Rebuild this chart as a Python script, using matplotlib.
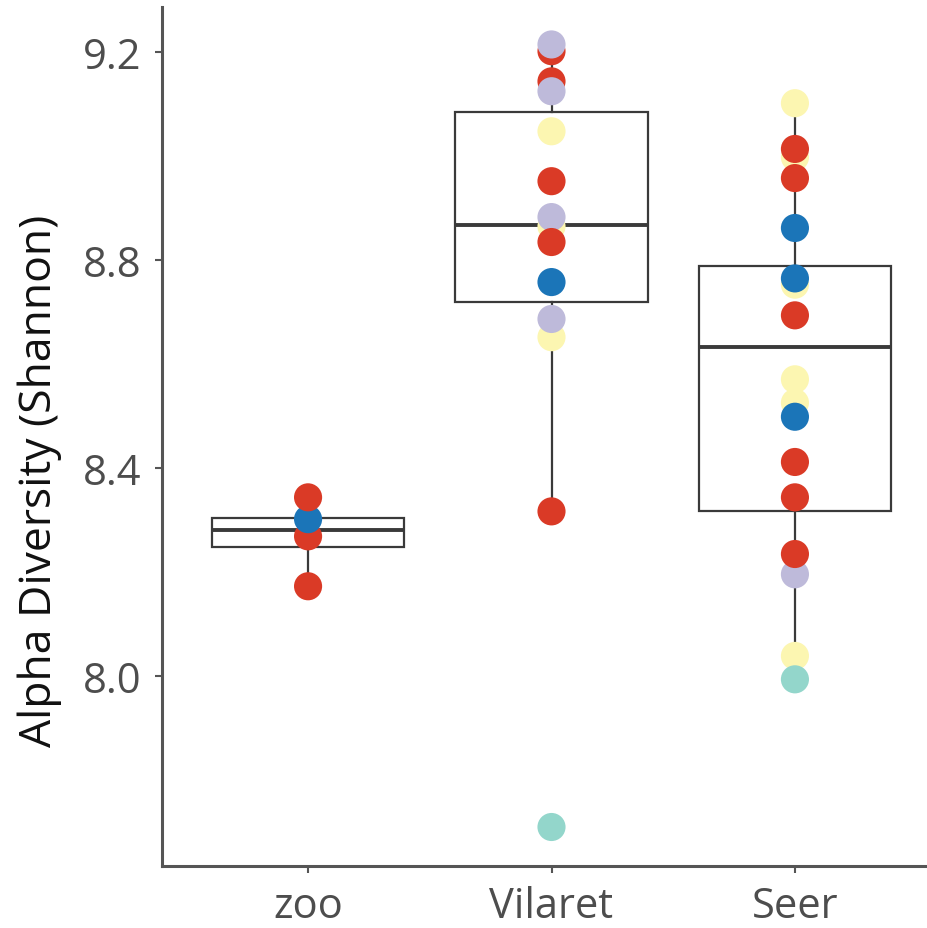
import matplotlib
matplotlib.use("Agg")
import matplotlib.pyplot as plt

# ---- data ----
categories = ["zoo", "Vilaret", "Seer"]

zoo_values = [8.268, 8.301, 8.343, 8.172]
zoo_colors = ["red", "blue", "red", "red"]

vilaret_values = [9.201, 9.214, 9.143, 9.124, 9.047, 8.951, 8.864, 8.882,
                  8.834, 8.757, 8.651, 8.686, 8.316, 7.709]
vilaret_colors = ["red", "lavender", "red", "lavender", "yellow", "red", "yellow", "lavender",
                  "red", "blue", "yellow", "lavender", "red", "teal"]

seer_values = [9.101, 8.997, 9.013, 8.957, 8.861, 8.752, 8.764, 8.693, 8.570,
               8.525, 8.498, 8.411, 8.343, 8.195, 8.234, 8.038, 7.993]
seer_colors = ["yellow", "yellow", "red", "red", "blue", "yellow", "blue", "red", "yellow",
               "yellow", "blue", "red", "red", "lavender", "red", "yellow", "teal"]

# box summaries (lower whisker, Q1, median, Q3, upper whisker)
box_whislo = [8.172, 8.316, 7.993]
box_q1 = [8.248, 8.718, 8.316]
box_med = [8.281, 8.866, 8.632]
box_q3 = [8.304, 9.084, 8.788]
box_whishi = [8.343, 9.214, 9.101]
box_fliers = [[], [7.709], []]

yticks = [8.0, 8.4, 8.8, 9.2]
ylabel = "Alpha Diversity (Shannon)"

palette = {"red": "#DA3A26", "blue": "#1B75B8", "lavender": "#BEBADA",
           "yellow": "#FCF6B1", "teal": "#93D6CB"}

# ---- figure ----
fig = plt.figure(figsize=(9.28, 9.29), dpi=100)
ax = fig.add_axes([162 / 928, 1 - 867 / 929, 779 / 928, 859 / 929])

positions = list(range(1, len(categories) + 1))
stats = []
for i in range(len(categories)):
    stats.append(dict(whislo=box_whislo[i], q1=box_q1[i], med=box_med[i],
                      q3=box_q3[i], whishi=box_whishi[i], fliers=box_fliers[i]))

line_col = "#3a3a3a"
ax.bxp(stats, positions=positions, widths=0.79, showfliers=False, showcaps=False,
       patch_artist=True,
       boxprops=dict(facecolor="white", edgecolor=line_col, linewidth=1.6),
       medianprops=dict(color=line_col, linewidth=2.8, solid_capstyle="butt"),
       whiskerprops=dict(color=line_col, linewidth=1.6),
       zorder=1)

groups = [(zoo_values, zoo_colors), (vilaret_values, vilaret_colors), (seer_values, seer_colors)]
for pos, (vals, cols) in zip(positions, groups):
    for v, c in zip(vals, cols):
        ax.scatter([pos], [v], s=410, color=palette[c], edgecolors="none", zorder=3)

ax.set_xlim(0.4, 3.6)
ax.set_ylim(7.634, 9.286)
ax.set_xticks(positions)
ax.set_xticklabels(categories)
ax.set_yticks(yticks)
ax.set_yticklabels([f"{t:.1f}" for t in yticks])

for s in ["top", "right"]:
    ax.spines[s].set_visible(False)
for s in ["left", "bottom"]:
    ax.spines[s].set_color("#555555")
    ax.spines[s].set_linewidth(2.2)

tick_font = ["Open Sans", "DejaVu Sans"]
ax.tick_params(axis="both", direction="out", length=5, width=1.5, color="#555555",
               labelcolor="#4d4d4d", labelsize=30)
ax.tick_params(axis="y", pad=10)
ax.tick_params(axis="x", pad=9)
for lab in ax.get_xticklabels() + ax.get_yticklabels():
    lab.set_fontfamily(tick_font)

ax.set_ylabel(ylabel, fontsize=32, color="#111111", family=["Open Sans", "DejaVu Sans"])
ax.yaxis.set_label_coords(-0.128, 0.45)

fig.savefig("out.png", dpi=100)
